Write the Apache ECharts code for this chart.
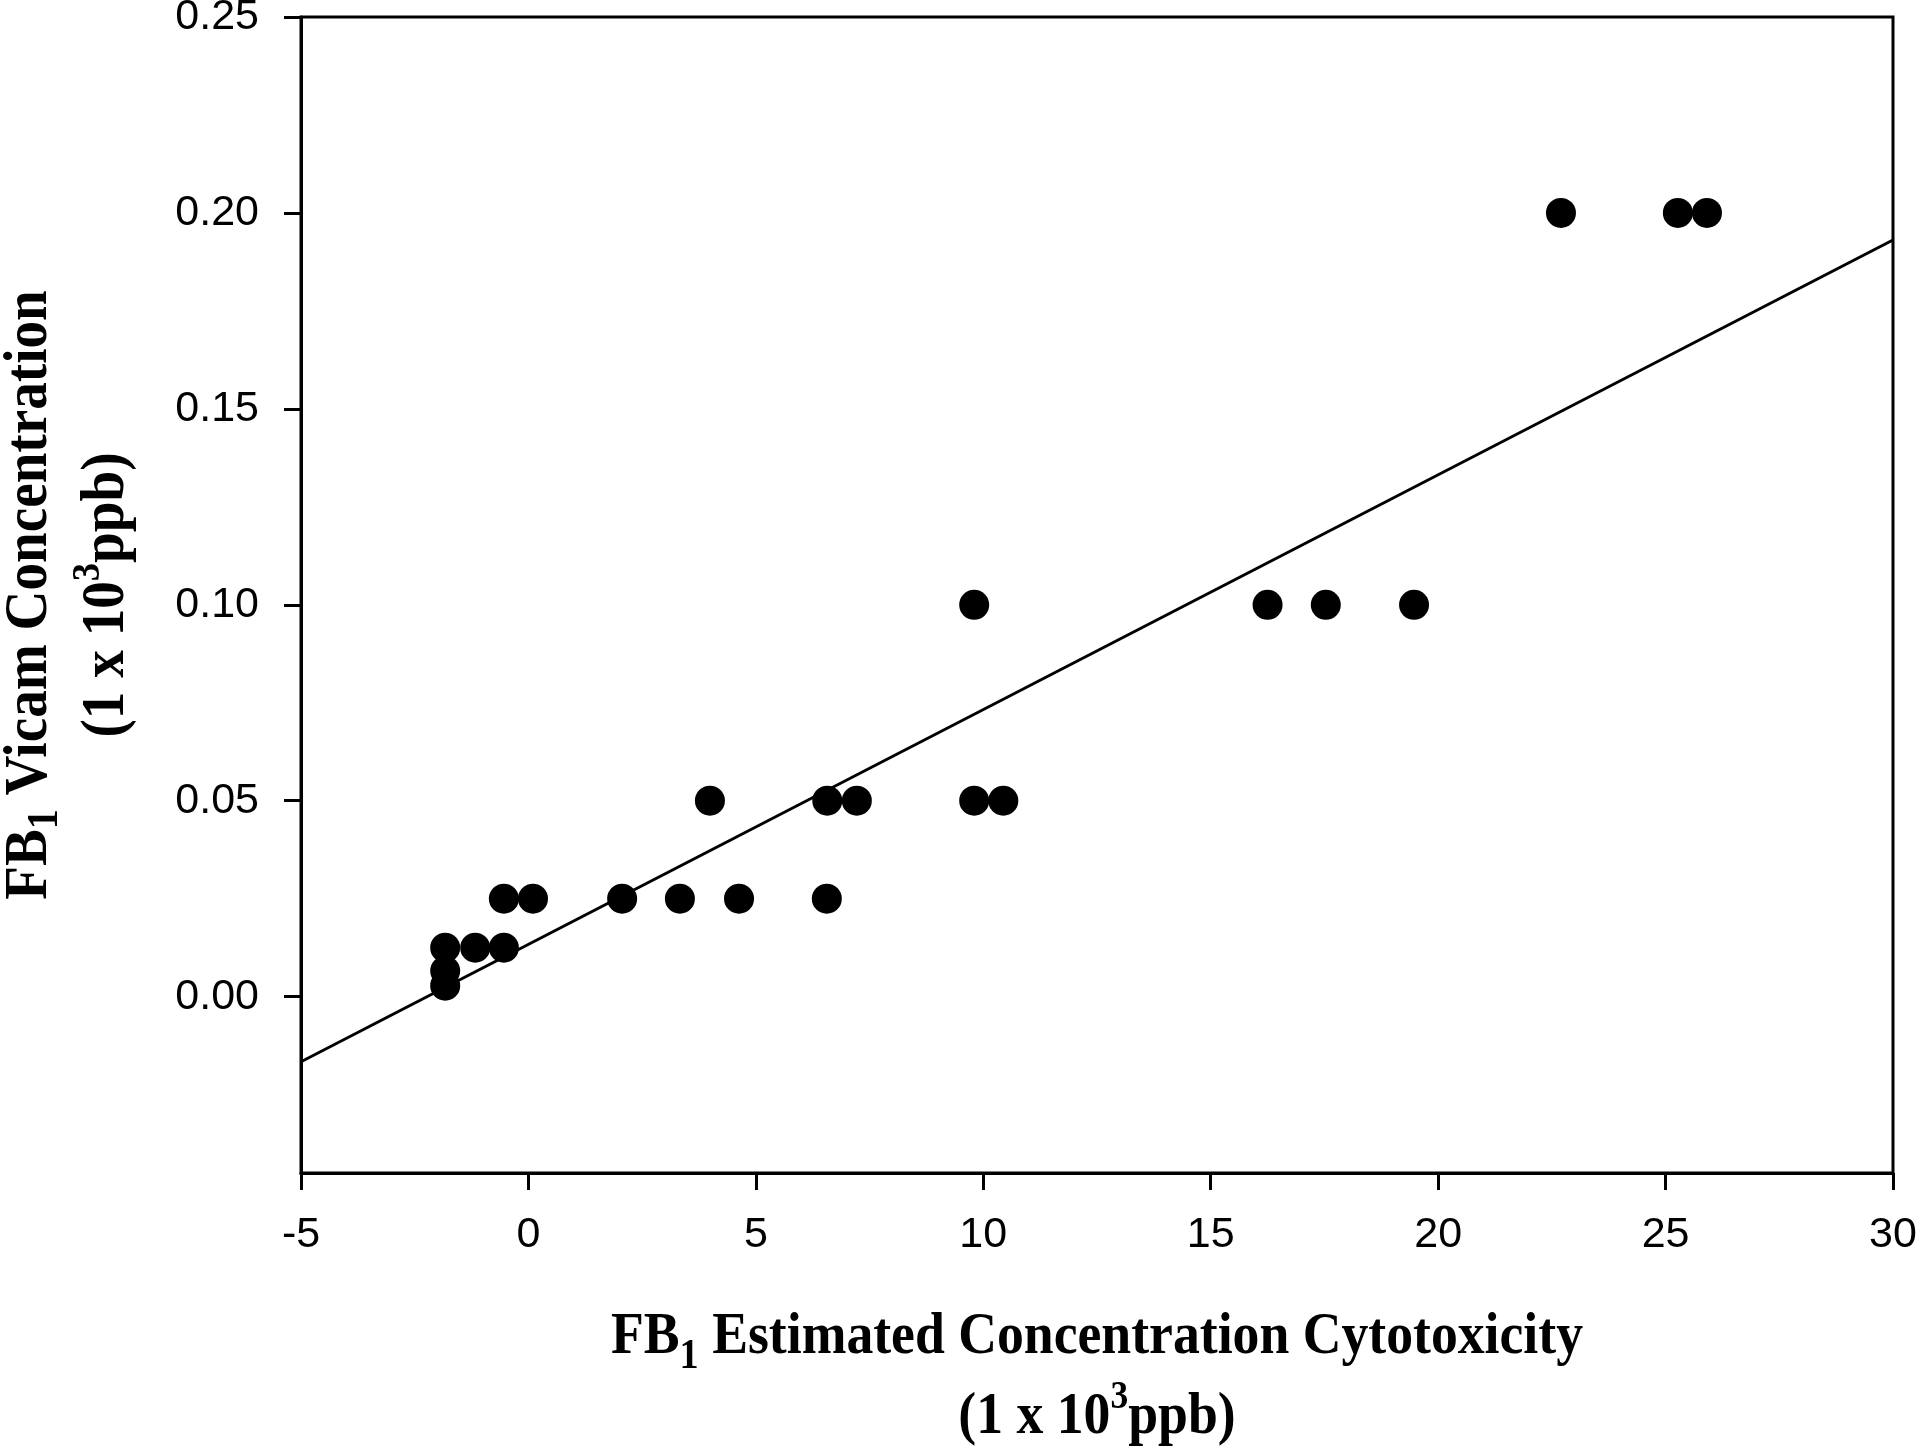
<!DOCTYPE html>
<html>
<head>
<meta charset="utf-8">
<script src="https://cdn.jsdelivr.net/npm/echarts@6/dist/echarts.min.js"></script>
<style>
  html, body { margin: 0; padding: 0; background: #fff; }
  #chart { width: 1916px; height: 1452px; }
</style>
</head>
<body>
<div id="chart"></div>
<script>
// measured points (FB1 cytotoxicity estimate vs Vicam), both x 10^3 ppb
var cytoX = [-1.83, -1.83, -1.83, -1.17, -0.54, -0.54, 0.10, 2.06, 3.33, 4.63, 6.56,
             3.99, 6.57, 7.22, 9.80, 10.44, 9.80, 16.25, 17.53, 19.47, 22.70, 25.27, 25.91];
var vicamY = [0.0028, 0.0066, 0.0125, 0.0125, 0.0125, 0.025, 0.025, 0.025, 0.025, 0.025, 0.025,
              0.05, 0.05, 0.05, 0.05, 0.05, 0.10, 0.10, 0.10, 0.10, 0.20, 0.20, 0.20];

// regression line end points (read at the axis edges)
var fitX = [-5, 30];
var fitY = [-0.0166, 0.1931];

var xTicks = [-5, 0, 5, 10, 15, 20, 25, 30];
var yTicks = [0, 0.05, 0.10, 0.15, 0.20, 0.25];

var xTitle = '{b|FB}{sub|1}{b| Estimated Concentration Cytotoxicity}\n{b|(1 x 10}{sup|3}{b|ppb)}';
var yTitle = '{b|FB}{sub|1}{b| Vicam Concentration}\n{b|(1 x 10}{sup|3}{b|ppb)}';

var points = cytoX.map(function (x, i) { return [x, vicamY[i]]; });
var fitLine = fitX.map(function (x, i) { return [x, fitY[i]]; });

var serif = '"Liberation Serif", "Times New Roman", serif';
var sans = '"Liberation Sans", Arial, sans-serif';

// titles are condensed bold serif in the original, so draw them with a horizontal squeeze
function titleRich(fs, lh) {
  return {
    b: { fontFamily: serif, fontWeight: 'bold', fontSize: fs, lineHeight: lh, fill: '#000' },
    sub: { fontFamily: serif, fontWeight: 'bold', fontSize: Math.round(fs * 0.72), lineHeight: Math.round(fs * 0.66), verticalAlign: 'bottom', fill: '#000' },
    sup: { fontFamily: serif, fontWeight: 'bold', fontSize: Math.round(fs * 0.66), lineHeight: Math.round(fs * 0.9), verticalAlign: 'top', fill: '#000' }
  };
}

var myChart = echarts.init(document.getElementById('chart'));
var option = {
  backgroundColor: '#fff',
  animation: false,
  grid: {
    left: 301, right: 23, top: 17, bottom: 279,
    outerBoundsMode: 'none',
    containLabel: false,
    show: true, borderColor: '#000', borderWidth: 3, backgroundColor: 'transparent'
  },
  xAxis: {
    type: 'value',
    min: -5, max: 30, interval: 5,
    axisLine: { onZero: false, lineStyle: { color: '#000', width: 3 } },
    axisTick: { show: true, inside: false, length: 17, lineStyle: { color: '#000', width: 3 }, customValues: xTicks },
    axisLabel: { margin: 41, fontFamily: sans, fontSize: 43, color: '#000', customValues: xTicks },
    splitLine: { show: false }
  },
  yAxis: {
    type: 'value',
    min: -0.045, max: 0.25,
    axisLine: { onZero: false, lineStyle: { color: '#000', width: 3 } },
    axisTick: { show: true, inside: false, length: 17, lineStyle: { color: '#000', width: 3 }, customValues: yTicks },
    axisLabel: {
      margin: 42, fontFamily: sans, fontSize: 43, color: '#000', customValues: yTicks,
      formatter: function (v) { return v.toFixed(2); }
    },
    splitLine: { show: false }
  },
  graphic: [
    {
      type: 'text',
      x: 1097, y: 1378,
      scaleX: 0.91,
      style: {
        text: xTitle,
        rich: titleRich(59, 80),
        align: 'center', verticalAlign: 'middle',
        textAlign: 'center', textVerticalAlign: 'middle',
        fill: '#000'
      }
    },
    {
      type: 'text',
      x: 68, y: 595,
      rotation: Math.PI / 2,
      scaleX: 0.89,
      style: {
        text: yTitle,
        rich: titleRich(62, 77),
        align: 'center', verticalAlign: 'middle',
        textAlign: 'center', textVerticalAlign: 'middle',
        fill: '#000'
      }
    }
  ],
  series: [
    {
      type: 'line',
      data: fitLine,
      symbol: 'none',
      lineStyle: { color: '#000', width: 3 },
      z: 2
    },
    {
      type: 'scatter',
      data: points,
      symbol: 'circle',
      symbolSize: 30,
      itemStyle: { color: '#000', opacity: 1 },
      z: 3
    }
  ]
};
myChart.setOption(option);
</script>
</body>
</html>
